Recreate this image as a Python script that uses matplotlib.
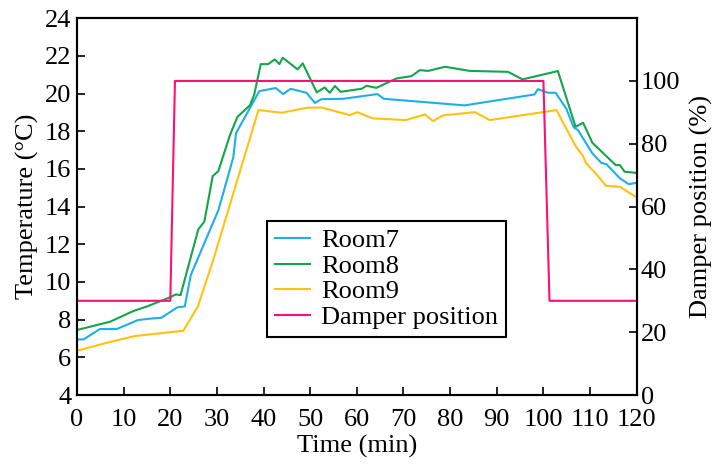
import matplotlib
matplotlib.use("Agg")
import matplotlib.pyplot as plt

# Room temperatures (deg C) vs time (min)
t_room7 = [0, 1.4, 4.9, 8.5, 13.1, 15.6, 18.1, 21.5, 23.1, 24.4, 30.3, 33.5, 34.1,
           39.1, 42.6, 44.2, 45.8, 49.2, 51.0, 52.4, 57.1, 64.4, 65.8, 83.1, 98.1,
           98.8, 101.0, 102.6, 104.9, 106.5, 107.4, 110.5, 112.4, 113.5, 116.4, 118.3, 120]
room7 = [6.95, 6.95, 7.5, 7.5, 7.98, 8.05, 8.1, 8.65, 8.7, 10.37, 13.8, 16.6, 17.9,
         20.13, 20.29, 19.97, 20.25, 20.04, 19.5, 19.7, 19.72, 19.97, 19.72, 19.37, 19.95,
         20.23, 20.04, 20.04, 19.2, 18.2, 18.06, 16.82, 16.32, 16.25, 15.5, 15.19, 15.26]

t_room8 = [0, 7.1, 12.1, 14.9, 19.9, 21.2, 22.2, 26.0, 27.3, 29.1, 30.3, 32.8, 34.4,
           37.1, 38.0, 39.4, 41.0, 42.4, 43.4, 44.1, 47.3, 48.4, 51.4, 53.1, 54.2,
           55.3, 56.5, 61.0, 62.1, 64.2, 68.5, 71.7, 73.5, 75.3, 78.9, 84.2, 92.4,
           95.5, 103.1, 106.9, 108.5, 110.5, 115.5, 116.4, 117.4, 120]
room8 = [7.45, 7.89, 8.46, 8.69, 9.18, 9.34, 9.3, 12.79, 13.2, 15.62, 15.88, 17.8, 18.76,
         19.38, 19.95, 21.56, 21.56, 21.81, 21.56, 21.9, 21.28, 21.6, 20.06, 20.32, 20.04,
         20.4, 20.09, 20.25, 20.41, 20.3, 20.8, 20.92, 21.24, 21.2, 21.42, 21.2, 21.15,
         20.75, 21.19, 18.23, 18.45, 17.38, 16.2, 16.2, 15.85, 15.79]

t_room9 = [0, 6.4, 12.4, 22.8, 25.9, 29.2, 38.9, 43.9, 49.2, 52.4, 58.5, 60.1, 63.4,
           70.5, 74.6, 76.3, 78.5, 85.3, 88.5, 102.8, 106.9, 108.5, 109.1, 111.7,
           113.4, 116.4, 120]
room9 = [6.35, 6.77, 7.13, 7.41, 8.69, 11.16, 19.12, 18.98, 19.24, 19.26, 18.85, 19.01,
         18.68, 18.59, 18.89, 18.54, 18.84, 19.01, 18.59, 19.12, 17.21, 16.68, 16.32,
         15.62, 15.1, 15.05, 14.48]

# Damper position (%)
t_damper = [0, 20, 21, 100, 101.3, 120]
damper = [30, 30, 100, 100, 30, 30]

plt.rcParams['font.family'] = ['Liberation Serif', 'DejaVu Serif']
plt.rcParams['font.size'] = 19

fig = plt.figure(figsize=(7.13, 4.65), dpi=100)
ax = fig.add_axes([0.108, 0.1505, 0.785, 0.8105])
ax2 = ax.twinx()

l7, = ax.plot(t_room7, room7, color='#1EAEEA', lw=1.5, label='Room7')
l8, = ax.plot(t_room8, room8, color='#12A54B', lw=1.5, label='Room8')
l9, = ax.plot(t_room9, room9, color='#FFC20E', lw=1.5, label='Room9')
ld, = ax2.plot(t_damper, damper, color='#FF0F72', lw=1.5, label='Damper position')

ax.set_xlim(0, 120)
ax.set_ylim(4, 24)
ax.set_xticks(range(0, 121, 10))
ax.set_yticks(range(4, 25, 2))
ax2.set_ylim(0, 120)
ax2.set_yticks(range(0, 101, 20))

for a in (ax, ax2):
    a.tick_params(direction='in', length=6, width=1.2, pad=4)
    for s in a.spines.values():
        s.set_linewidth(1.5)
ax.tick_params(axis='x', pad=10)
ax2.tick_params(pad=3)

ax.set_xlabel('Time (min)', labelpad=3)
ax.set_ylabel('Temperature (\u00b0C)', labelpad=4)
ax2.set_ylabel('Damper position (%)', labelpad=7)

leg = ax.legend(handles=[l7, l8, l9, ld], loc='lower left',
                bbox_to_anchor=(0.339, 0.154), fancybox=False,
                edgecolor='black', framealpha=1, handlelength=1.35,
                borderpad=0.3, labelspacing=0.08, handletextpad=0.4,
                borderaxespad=0)
leg.get_frame().set_linewidth(1.5)

fig.savefig('out.png', dpi=100)
